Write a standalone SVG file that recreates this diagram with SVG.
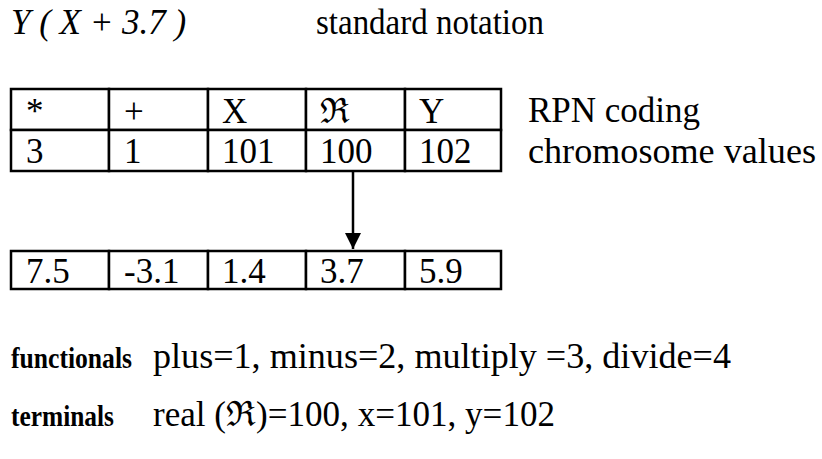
<svg xmlns="http://www.w3.org/2000/svg" width="822" height="459" viewBox="0 0 822 459">
<style>
text{font-family:"Liberation Serif","DejaVu Serif",serif;font-size:35px;fill:#000}
.b{font-weight:bold;font-size:30px}
.i{font-style:italic}
.cell{fill:#fff;stroke:#000;stroke-width:2.5}
.conn{stroke:#000;stroke-width:2.5;fill:none}
</style>
<defs>
<marker id="ah" viewBox="0 0 10 10" refX="10" refY="5" markerWidth="16" markerHeight="16" markerUnits="userSpaceOnUse" orient="auto">
<path d="M0,0 L10,5 L0,10 z" fill="#000"/>
</marker>
</defs>
<rect width="822" height="459" fill="#fff"/>
<g id="title">
<text x="11" y="34" class="i">Y ( X + 3.7 )</text>
<text x="316" y="34" textLength="228" lengthAdjust="spacingAndGlyphs">standard notation</text>
</g>
<g id="rpn">
<rect class="cell" x="11" y="89" width="98" height="41"/>
<rect class="cell" x="109" y="89" width="99" height="41"/>
<rect class="cell" x="208" y="89" width="98" height="41"/>
<rect class="cell" x="306" y="89" width="99" height="41"/>
<rect class="cell" x="405" y="89" width="96" height="41"/>
<text x="26" y="123">*</text>
<text x="124" y="123">+</text>
<text x="222" y="123">X</text>
<text x="320" y="123">ℜ</text>
<text x="419" y="123">Y</text>
</g>
<g id="chromosome">
<rect class="cell" x="11" y="130" width="98" height="41"/>
<rect class="cell" x="109" y="130" width="99" height="41"/>
<rect class="cell" x="208" y="130" width="98" height="41"/>
<rect class="cell" x="306" y="130" width="99" height="41"/>
<rect class="cell" x="405" y="130" width="96" height="41"/>
<text x="26" y="163">3</text>
<text x="124" y="163">1</text>
<text x="222" y="163">101</text>
<text x="320" y="163">100</text>
<text x="419" y="163">102</text>
</g>
<g id="labels">
<text x="528" y="122">RPN coding</text>
<text x="528" y="163" textLength="288" lengthAdjust="spacingAndGlyphs">chromosome values</text>
</g>
<g id="values">
<rect class="cell" x="11" y="251" width="98" height="38"/>
<rect class="cell" x="109" y="251" width="99" height="38"/>
<rect class="cell" x="208" y="251" width="98" height="38"/>
<rect class="cell" x="306" y="251" width="99" height="38"/>
<rect class="cell" x="405" y="251" width="96" height="38"/>
<text x="26" y="283">7.5</text>
<text x="124" y="283">-3.1</text>
<text x="222" y="283">1.4</text>
<text x="320" y="283">3.7</text>
<text x="419" y="283">5.9</text>
</g>
<g id="connectors">
<line class="conn" x1="353" y1="171" x2="353" y2="249" marker-end="url(#ah)"/>
</g>
<g id="legend">
<text x="11" y="368" class="b" textLength="121" lengthAdjust="spacingAndGlyphs">functionals</text>
<text x="153" y="368" textLength="578" lengthAdjust="spacingAndGlyphs">plus=1, minus=2, multiply =3, divide=4</text>
<text x="11" y="426" class="b" textLength="103" lengthAdjust="spacingAndGlyphs">terminals</text>
<text x="153" y="426" textLength="402" lengthAdjust="spacingAndGlyphs">real  (ℜ)=100, x=101, y=102</text>
</g>
</svg>
